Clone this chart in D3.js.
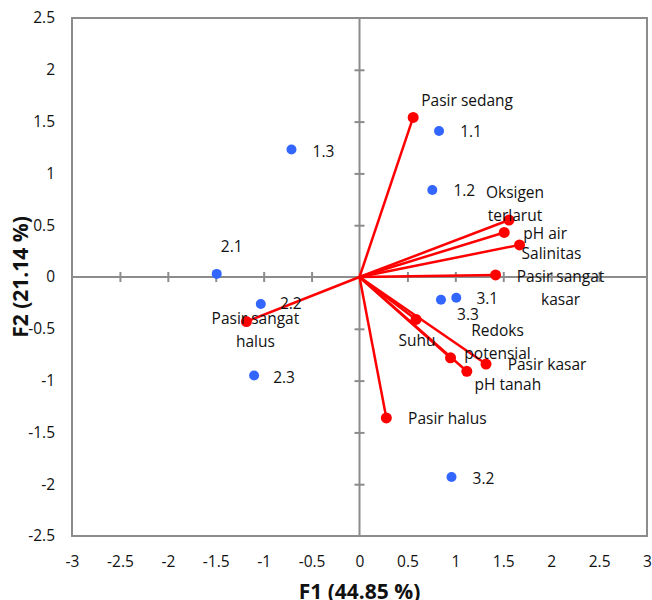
<!DOCTYPE html>
<html>
<head>
<meta charset="utf-8">
<script src="https://cdn.jsdelivr.net/npm/d3@7"></script>
<style>
  body { margin: 0; background: #fff; }
  text { font-family: "Open Sans", Lato, sans-serif; }
</style>
</head>
<body>
<div id="chart"></div>
<script>
// observations (blue)
const obsNames = ['1.1', '1.2', '1.3', '2.1', '2.2', '2.3', '3.1', '3.2', '3.3']
const obsF1 = [0.83, 0.76, -0.71, -1.49, -1.03, -1.10, 1.01, 0.96, 0.85]
const obsF2 = [1.41, 0.84, 1.23, 0.03, -0.26, -0.95, -0.20, -1.93, -0.22]

// variables (red vectors)
const varNames = ['Pasir sedang', 'Oksigen terlarut', 'pH air', 'Salinitas', 'Pasir sangat kasar',
  'Pasir sangat halus', 'Suhu', 'Redoks potensial', 'Pasir kasar', 'pH tanah', 'Pasir halus']
const varF1 = [0.56, 1.56, 1.51, 1.67, 1.42, -1.18, 0.59, 0.95, 1.32, 1.12, 0.28]
const varF2 = [1.54, 0.55, 0.43, 0.31, 0.02, -0.43, -0.41, -0.78, -0.84, -0.91, -1.36]

const xTicks = [-3, -2.5, -2, -1.5, -1, -0.5, 0, 0.5, 1, 1.5, 2, 2.5, 3]
const yTicks = [-2.5, -2, -1.5, -1, -0.5, 0, 0.5, 1, 1.5, 2, 2.5]

// label layout: [dx, dy, lines] relative to point (pixels)
const obsLabelPos = {
  '1.1': [32, 1], '1.2': [32, 1], '1.3': [32, 2], '2.1': [15, -27], '2.2': [30, 0],
  '2.3': [30, 2], '3.1': [31, 1], '3.2': [32, 2], '3.3': [27, 15]
}
const varLabelPos = {
  'Pasir sedang': [54, -17, ['Pasir sedang']],
  'Oksigen terlarut': [6, -27, ['Oksigen', 'terlarut']],
  'pH air': [41, 1, ['pH air']],
  'Salinitas': [32, 9, ['Salinitas']],
  'Pasir sangat kasar': [65, 2, ['Pasir sangat', 'kasar']],
  'Pasir sangat halus': [9, -3, ['Pasir sangat', 'halus']],
  'Suhu': [1, 21, ['Suhu']],
  'Redoks potensial': [47, -27, ['Redoks', 'potensial']],
  'Pasir kasar': [61, 1, ['Pasir kasar']],
  'pH tanah': [41, 13, ['pH tanah']],
  'Pasir halus': [61, 1, ['Pasir halus']]
}

const fontSize = 15.5

const margin = ({top: 18, right: 5, bottom: 64, left: 72})
const width = 652 - margin.left - margin.right,
  height = 600 - margin.top - margin.bottom

const svg = d3.select('#chart').append('svg')
  .attr('width', 652)
  .attr('height', 600)

const g = svg.append('g')
  .attr('transform', 'translate(' + margin.left + ',' + margin.top + ')')

const xScale = d3.scaleLinear().domain([-3, 3]).range([0, width])
const yScale = d3.scaleLinear().domain([-2.5, 2.5]).range([height, 0])

const fmt = d => String(d)

// frame tick labels
const xAxis = d3.axisBottom(xScale).tickValues(xTicks).tickFormat(fmt).tickSize(0).tickPadding(20)
const yAxis = d3.axisLeft(yScale).tickValues(yTicks).tickFormat(fmt).tickSize(0).tickPadding(17)

g.append('g').attr('class', 'x-axis')
  .attr('transform', `translate(0,${height})`)
  .call(xAxis)
g.append('g').attr('class', 'y-axis')
  .call(yAxis)

g.selectAll('.x-axis .domain, .y-axis .domain').remove()
g.selectAll('.x-axis text, .y-axis text')
  .attr('font-family', '"Open Sans", Lato, sans-serif')
  .attr('font-size', fontSize)
  .attr('fill', '#111')

// zero axes with crossing ticks
const cross = g.append('g').attr('class', 'cross')
cross.append('g')
  .attr('transform', `translate(0,${yScale(0) - 5})`)
  .call(d3.axisBottom(xScale).tickValues(xTicks.slice(1, -1)).tickSize(10).tickFormat(''))
cross.append('g')
  .attr('transform', `translate(${xScale(0) + 5},0)`)
  .call(d3.axisLeft(yScale).tickValues(yTicks.slice(1, -1)).tickSize(10).tickFormat(''))
cross.selectAll('.domain').remove()
cross.selectAll('line').attr('stroke', '#8c8c8c').attr('stroke-width', 2)

cross.append('line')
  .attr('x1', 0).attr('x2', width)
  .attr('y1', yScale(0)).attr('y2', yScale(0))
  .attr('stroke', '#8c8c8c').attr('stroke-width', 2)
cross.append('line')
  .attr('x1', xScale(0)).attr('x2', xScale(0))
  .attr('y1', 0).attr('y2', height)
  .attr('stroke', '#8c8c8c').attr('stroke-width', 2)

// frame
g.append('rect')
  .attr('x', 0).attr('y', 0)
  .attr('width', width).attr('height', height)
  .attr('fill', 'none')
  .attr('stroke', '#8c8c8c')
  .attr('stroke-width', 2)

const vars = varNames.map((n, i) => ({name: n, x: varF1[i], y: varF2[i]}))
const obs = obsNames.map((n, i) => ({name: n, x: obsF1[i], y: obsF2[i]}))

// vectors
g.selectAll('.vec').data(vars).join('line')
  .attr('class', 'vec')
  .attr('x1', xScale(0)).attr('y1', yScale(0))
  .attr('x2', d => xScale(d.x)).attr('y2', d => yScale(d.y))
  .attr('stroke', '#ff0000')
  .attr('stroke-width', 2.5)

g.selectAll('.vdot').data(vars).join('circle')
  .attr('class', 'vdot')
  .attr('cx', d => xScale(d.x)).attr('cy', d => yScale(d.y))
  .attr('r', 5.5)
  .attr('fill', '#ff0000')

g.selectAll('.odot').data(obs).join('circle')
  .attr('class', 'odot')
  .attr('cx', d => xScale(d.x)).attr('cy', d => yScale(d.y))
  .attr('r', 5)
  .attr('fill', '#3366ff')

// labels
g.selectAll('.olab').data(obs).join('text')
  .attr('class', 'olab')
  .attr('x', d => xScale(d.x) + obsLabelPos[d.name][0])
  .attr('y', d => yScale(d.y) + obsLabelPos[d.name][1])
  .attr('dy', '0.35em')
  .attr('text-anchor', 'middle')
  .attr('font-size', fontSize)
  .attr('fill', '#111')
  .text(d => d.name)

const vlab = g.selectAll('.vlab').data(vars).join('text')
  .attr('class', 'vlab')
  .attr('text-anchor', 'middle')
  .attr('font-size', fontSize)
  .attr('fill', '#111')

vlab.each(function(d) {
  const [dx, dy, lines] = varLabelPos[d.name]
  d3.select(this).selectAll('tspan').data(lines).join('tspan')
    .attr('x', xScale(d.x) + dx)
    .attr('y', (l, i) => yScale(d.y) + dy + i * 23)
    .attr('dy', '0.35em')
    .text(l => l)
})

// axis titles
svg.append('text')
  .attr('x', margin.left + xScale(0))
  .attr('y', 599)
  .attr('text-anchor', 'middle')
  .attr('font-family', '"Liberation Sans", Arial, sans-serif')
  .attr('font-weight', 'bold')
  .attr('font-size', 21)
  .attr('fill', '#111')
  .text('F1 (44.85 %)')

svg.append('text')
  .attr('transform', `translate(28,${margin.top + yScale(0)}) rotate(-90)`)
  .attr('text-anchor', 'middle')
  .attr('font-family', '"Liberation Sans", Arial, sans-serif')
  .attr('font-weight', 'bold')
  .attr('font-size', 21)
  .attr('fill', '#111')
  .text('F2 (21.14 %)')
</script>
</body>
</html>
